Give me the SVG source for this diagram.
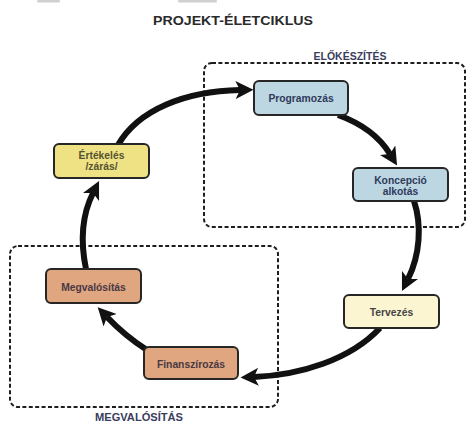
<svg xmlns="http://www.w3.org/2000/svg" width="467" height="421" viewBox="0 0 467 421">
<style>
.box{stroke:#262626;stroke-width:2}
.t{font-family:"Liberation Sans",Arial,sans-serif;font-weight:bold;font-size:10.3px;text-anchor:middle}
.grp{fill:none;stroke:#1e1e1e;stroke-width:2;stroke-dasharray:4 2.4}
.lbl{font-family:"Liberation Sans",Arial,sans-serif;font-weight:bold;text-anchor:middle;fill:#3a3d5c}
.arr{fill:none;stroke:#111;stroke-width:6;marker-end:url(#ah)}
</style>
<defs>
<marker id="ah" viewBox="0 0 10 10" refX="2.5" refY="5" markerWidth="3" markerHeight="3" orient="auto" markerUnits="strokeWidth">
<path d="M0,0 L10,5 L0,10 L2.5,5 z" fill="#111"/>
</marker>
</defs>
<rect width="467" height="421" fill="#fff"/>
<rect x="37" y="0" width="23" height="2.5" rx="1" fill="#d0d0d0"/>
<rect x="178" y="0" width="39" height="2.5" rx="1" fill="#d0d0d0"/>
<text x="233" y="25" class="lbl" style="font-size:13px;fill:#2a2a2a" textLength="160" lengthAdjust="spacingAndGlyphs">PROJEKT-ÉLETCIKLUS</text>
<g id="group-elokeszites">
<rect x="204" y="63" width="261" height="164" rx="8" class="grp"/>
<text x="350" y="60" class="lbl" style="font-size:10.5px">ELŐKÉSZÍTÉS</text>
</g>
<g id="group-megvalositas">
<rect x="10" y="246" width="268" height="161" rx="8" class="grp"/>
<text x="139" y="420.5" class="lbl" style="font-size:10.5px" textLength="88" lengthAdjust="spacingAndGlyphs">MEGVALÓSÍTÁS</text>
</g>
<g id="connectors">
<path class="arr" d="M118,145 C138,110 185,91 240,90"/>
<path class="arr" d="M338,115 Q374,128 390,154"/>
<path class="arr" d="M414,201 C422,225 420,255 408,279"/>
<path class="arr" d="M380,328 C350,360 300,375 254,377"/>
<path class="arr" d="M147,350 Q125,336 107,317"/>
<path class="arr" d="M86,269 C80,240 82,215 93,193"/>
</g>
<g id="programozas">
<rect x="254" y="81" width="94" height="34" rx="5" class="box" fill="#bdd7e2"/>
<text x="301" y="101.5" class="t" fill="#2f3a5c">Programozás</text>
</g>
<g id="koncepcio">
<rect x="353" y="168" width="95" height="33" rx="5" class="box" fill="#bdd7e2"/>
<text x="400.5" y="184" class="t" fill="#2f3a5c">Koncepció</text>
<text x="400.5" y="194.5" class="t" fill="#2f3a5c">alkotás</text>
</g>
<g id="tervezes">
<rect x="344" y="295" width="95" height="33" rx="5" class="box" fill="#fbf5d2"/>
<text x="391.5" y="315.5" class="t" fill="#444">Tervezés</text>
</g>
<g id="finanszirozas">
<rect x="144" y="347" width="94" height="32" rx="5" class="box" fill="#dfa67f"/>
<text x="191" y="367.5" class="t" fill="#4a3845">Finanszírozás</text>
</g>
<g id="megvalositas">
<rect x="46" y="269" width="95" height="34" rx="5" class="box" fill="#dfa67f"/>
<text x="93.5" y="290.5" class="t" fill="#4a3845">Megvalósítás</text>
</g>
<g id="ertekeles">
<rect x="54" y="144" width="95" height="34" rx="5" class="box" fill="#eee285"/>
<text x="101.5" y="159" class="t" fill="#55532f">Értékelés</text>
<text x="101.5" y="170" class="t" fill="#55532f">/zárás/</text>
</g>
</svg>
